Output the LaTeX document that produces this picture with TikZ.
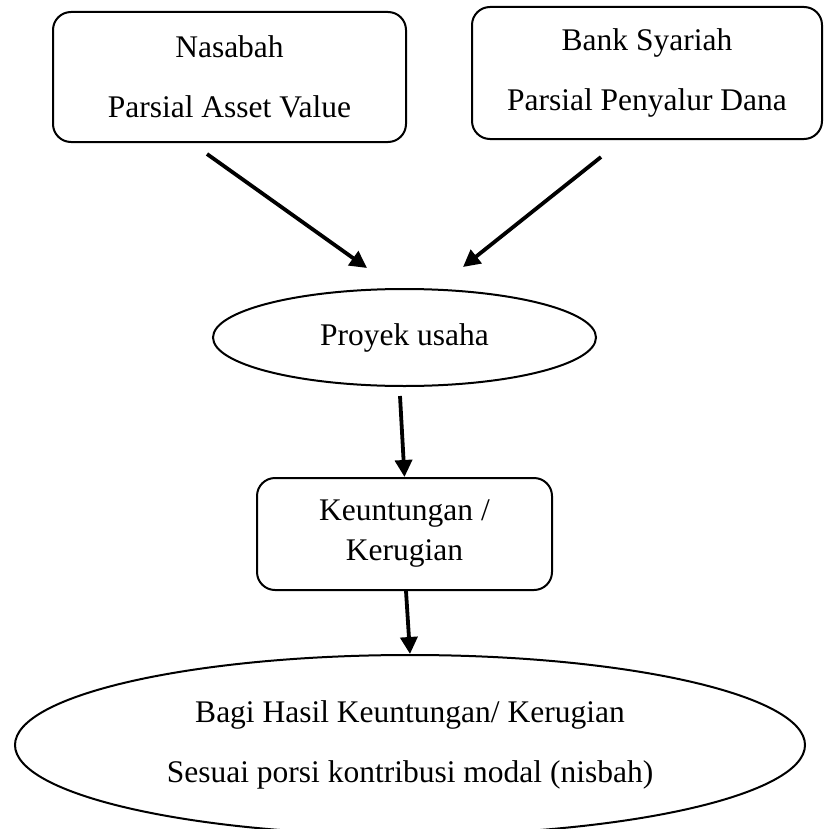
\documentclass[tikz,border=0pt]{standalone}
\usepackage{fontspec}
\setmainfont{Liberation Serif}
\usetikzlibrary{arrows.meta,positioning,calc,shapes.geometric}

\begin{document}
\begin{tikzpicture}[x=0.5pt, y=-0.5pt,
  party/.style={draw, line width=1pt, rounded corners=9pt, align=center,
                font=\fontsize{15.75}{30}\selectfont, minimum height=65pt, inner sep=0pt},
  result/.style={draw, line width=1pt, rounded corners=9pt, align=center,
                 font=\fontsize{15.75}{20}\selectfont, minimum width=147.5pt,
                 minimum height=56pt, inner sep=0pt},
  oval/.style={draw, ellipse, line width=1pt, align=center, inner sep=0pt},
  ar/.style={-{Triangle[length=8.5pt, width=8.5pt]}, line width=1.9pt},
]
\useasboundingbox (0,0) rectangle (824,829);

\node[party, minimum width=176.5pt] (nasabah) at (229.5,77)
  {Nasabah\\Parsial Asset Value};
\node[party, minimum width=175pt, minimum height=66pt] (bank) at (647,73)
  {Bank Syariah\\Parsial Penyalur Dana};

\node[oval, minimum width=191.5pt, minimum height=48.5pt,
      font=\fontsize{15.75}{20}\selectfont] (proyek) at (404.5,337.5) {Proyek usaha};
\node[result, below=45pt of proyek] (hasil) {Keuntungan /\\Kerugian};
\node[oval, minimum width=395pt, minimum height=90pt,
      font=\fontsize{15.75}{30}\selectfont, below=31.5pt of hasil, xshift=2.75pt] (bagi)
  {Bagi Hasil Keuntungan/ Kerugian\\Sesuai porsi kontribusi modal (nisbah)};

% alur
\draw[ar] ($(nasabah.south)+(-22.5,11)$) -- ($(proyek.north)+(-37.5,-20)$);
\draw[ar] ($(bank.south)+(-46,17)$) -- ($(proyek.north)+(58.5,-21)$);
\draw[ar] ($(proyek.south)+(-4.5,9)$) -- (hasil.north);
\draw[ar] ($(hasil.south)+(1.5,0)$) -- (bagi.north);
\end{tikzpicture}
\end{document}
